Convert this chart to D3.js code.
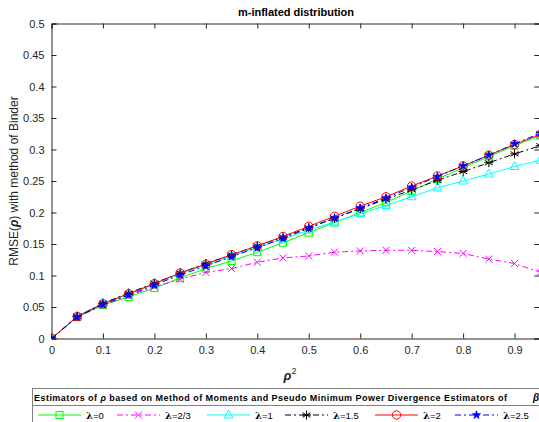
<!DOCTYPE html>
<html>
<head>
<meta charset="utf-8">
<script src="https://cdn.jsdelivr.net/npm/d3@7"></script>
<style>
  body { margin: 0; background: #fff; }
  svg { font-family: "Liberation Sans", Arial, sans-serif; }
</style>
</head>
<body>
<div id="chart"></div>
<script>
const rho2 = [0, 0.05, 0.1, 0.15, 0.2, 0.25, 0.3, 0.35, 0.4, 0.45, 0.5, 0.55, 0.6, 0.65, 0.7, 0.75, 0.8, 0.85, 0.9, 0.95];
const lam0 = [0, 0.034, 0.053, 0.066, 0.080, 0.096, 0.111, 0.123, 0.137, 0.152, 0.168, 0.184, 0.200, 0.216, 0.234, 0.253, 0.271, 0.289, 0.306, 0.322];
const lam23 = [0, 0.034, 0.053, 0.068, 0.082, 0.094, 0.105, 0.111, 0.121, 0.128, 0.131, 0.137, 0.139, 0.140, 0.140, 0.138, 0.135, 0.126, 0.119, 0.105];
const lam1 = [0, 0.035, 0.056, 0.071, 0.087, 0.103, 0.117, 0.131, 0.145, 0.158, 0.172, 0.185, 0.198, 0.211, 0.225, 0.239, 0.250, 0.261, 0.273, 0.283];
const lam15 = [0, 0.035, 0.056, 0.072, 0.088, 0.104, 0.119, 0.133, 0.147, 0.161, 0.176, 0.191, 0.206, 0.221, 0.236, 0.251, 0.265, 0.279, 0.293, 0.306];
const lam2 = [0, 0.035, 0.055, 0.071, 0.087, 0.104, 0.118, 0.133, 0.147, 0.162, 0.178, 0.194, 0.210, 0.225, 0.242, 0.258, 0.274, 0.291, 0.308, 0.324];
const lam25 = [0, 0.034, 0.054, 0.069, 0.085, 0.101, 0.115, 0.130, 0.144, 0.159, 0.175, 0.191, 0.207, 0.223, 0.240, 0.257, 0.274, 0.291, 0.309, 0.326];
const xTicks = [0, 0.1, 0.2, 0.3, 0.4, 0.5, 0.6, 0.7, 0.8, 0.9];
const yTicks = [0, 0.05, 0.1, 0.15, 0.2, 0.25, 0.3, 0.35, 0.4, 0.45, 0.5];

const series = [
  { name: "0", values: lam0, color: "#00ff00", dash: null, marker: "square" },
  { name: "2/3", values: lam23, color: "#ff00ff", dash: "6,3,2,3", marker: "x" },
  { name: "1", values: lam1, color: "#00ffff", dash: null, marker: "triangle" },
  { name: "1.5", values: lam15, color: "#000000", dash: "6,3,2,3", marker: "asterisk" },
  { name: "2", values: lam2, color: "#ff0000", dash: null, marker: "circle" },
  { name: "2.5", values: lam25, color: "#0000ff", dash: "6,3,2,3", marker: "star" }
];

const width = 539, height = 422;
const svg = d3.select("#chart").append("svg")
  .attr("width", width).attr("height", height);

const x = d3.scaleLinear().domain([0, 0.95]).range([51.5, 540.3]);
const y = d3.scaleLinear().domain([0, 0.5]).range([338.5, 23.5]);
const axisColor = "#262626";

svg.append("defs").append("clipPath").attr("id", "clip")
  .append("rect").attr("x", 51.5).attr("y", 23.5).attr("width", 489).attr("height", 315);

// axes (ticks pointing inward on all sides)
const fmt = d => d3.format("")(d);
const gx = svg.append("g").attr("transform", `translate(0,${y(0)})`)
  .call(d3.axisBottom(x).tickValues(xTicks).tickSize(-5).tickPadding(8).tickFormat(fmt));
const gxTop = svg.append("g").attr("transform", `translate(0,${y(0.5)})`)
  .call(d3.axisTop(x).tickValues(xTicks).tickSize(-5).tickFormat(""));
const gy = svg.append("g").attr("transform", `translate(${x(0)},0)`)
  .call(d3.axisLeft(y).tickValues(yTicks).tickSize(-5).tickPadding(7).tickFormat(fmt));
const gyR = svg.append("g").attr("transform", `translate(${x(0.95) - 1},0)`)
  .call(d3.axisRight(y).tickValues(yTicks).tickSize(-5).tickFormat(""));
[gx, gxTop, gy, gyR].forEach(g => {
  g.select(".domain").attr("stroke", axisColor).attr("stroke-width", 1);
  g.selectAll(".tick line").attr("stroke", axisColor);
  g.selectAll("text").attr("fill", axisColor).style("font-size", "11px")
    .style("font-family", "'Liberation Sans', Arial, sans-serif");
});

// marker shapes
function drawMarker(g, type, cx, cy, color) {
  if (type === "square") {
    g.append("rect").attr("x", cx - 3.5).attr("y", cy - 3.5).attr("width", 7).attr("height", 7)
      .attr("fill", "none").attr("stroke", color);
  } else if (type === "x") {
    g.append("path").attr("d", `M${cx - 3.5},${cy - 3.5}L${cx + 3.5},${cy + 3.5}M${cx - 3.5},${cy + 3.5}L${cx + 3.5},${cy - 3.5}`)
      .attr("stroke", color);
  } else if (type === "triangle") {
    g.append("path").attr("d", `M${cx},${cy - 5}L${cx + 4.5},${cy + 3}L${cx - 4.5},${cy + 3}Z`)
      .attr("fill", "none").attr("stroke", color);
  } else if (type === "asterisk") {
    g.append("path").attr("d", `M${cx},${cy - 4.5}L${cx},${cy + 4.5}M${cx - 4},${cy - 2.3}L${cx + 4},${cy + 2.3}M${cx - 4},${cy + 2.3}L${cx + 4},${cy - 2.3}M${cx - 4.5},${cy}L${cx + 4.5},${cy}`)
      .attr("stroke", color);
  } else if (type === "circle") {
    g.append("circle").attr("cx", cx).attr("cy", cy).attr("r", 4.2)
      .attr("fill", "none").attr("stroke", color);
  } else if (type === "star") {
    g.append("path").attr("d", d3.symbol(d3.symbolStar, 20)()).attr("transform", `translate(${cx},${cy})`)
      .attr("fill", color).attr("stroke", color).attr("stroke-width", 0.8);
  }
}

const plot = svg.append("g").attr("clip-path", "url(#clip)");
const line = d3.line().x((d, i) => x(rho2[i])).y(d => y(d));
series.forEach(s => {
  plot.append("path").datum(s.values).attr("d", line)
    .attr("fill", "none").attr("stroke", s.color).attr("stroke-width", 1)
    .attr("stroke-dasharray", s.dash);
  const mg = plot.append("g");
  s.values.forEach((v, i) => drawMarker(mg, s.marker, x(rho2[i]), y(v), s.color));
});

// title
svg.append("text").attr("x", 296).attr("y", 16).attr("text-anchor", "middle")
  .style("font-size", "11px").style("font-weight", "bold").attr("fill", "#000")
  .text("m-inflated distribution");

// y label
const yl = svg.append("text").attr("transform", "translate(18,181) rotate(-90)")
  .attr("text-anchor", "middle").style("font-size", "12px").attr("fill", axisColor);
yl.append("tspan").text("RMSE(");
yl.append("tspan").style("font-weight", "bold").style("font-style", "italic").text("ρ");
yl.append("tspan").text(") with method of Binder");

// x label
const xl = svg.append("text").attr("x", 290).attr("y", 380).attr("text-anchor", "middle")
  .style("font-size", "13px").attr("fill", axisColor);
xl.append("tspan").style("font-weight", "bold").style("font-style", "italic").text("ρ");
xl.append("tspan").attr("dy", -6).style("font-size", "9px").text("2");

// legend
const lg = svg.append("g");
lg.append("rect").attr("x", 32.5).attr("y", 388.5).attr("width", 520).attr("height", 50)
  .attr("fill", "#fff").attr("stroke", "#808080");
lg.append("line").attr("x1", 32.5).attr("x2", 540).attr("y1", 405.5).attr("y2", 405.5)
  .attr("stroke", "#808080");
const lt = lg.append("text").attr("x", 34).attr("y", 401).style("font-size", "9px")
  .style("font-weight", "bold").attr("fill", "#000")
  .attr("textLength", 473).attr("lengthAdjust", "spacing");
lt.append("tspan").text("Estimators of ");
lt.append("tspan").style("font-style", "italic").text("ρ");
lt.append("tspan").text(" based on Method of Moments and Pseudo Minimum Power Divergence Estimators of");
lg.append("text").attr("x", 533).attr("y", 401).style("font-size", "10px")
  .style("font-weight", "bold").style("font-style", "italic").text("β");

const legendX = [38, 117, 207, 285, 375, 455];
series.forEach((s, i) => {
  const x0 = legendX[i], ly = 415;
  lg.append("line").attr("x1", x0).attr("x2", x0 + 43).attr("y1", ly).attr("y2", ly)
    .attr("stroke", s.color).attr("stroke-dasharray", s.dash);
  drawMarker(lg, s.marker, x0 + 21.5, ly, s.color);
  const t = lg.append("text").attr("x", x0 + 48).attr("y", ly + 4).style("font-size", "10px").attr("fill", "#000");
  t.append("tspan").style("font-weight", "bold").style("font-family", "'DejaVu Serif', serif").text("λ");
  t.append("tspan").style("font-size", "9.5px").text("=" + s.name);
});
</script>
</body>
</html>
